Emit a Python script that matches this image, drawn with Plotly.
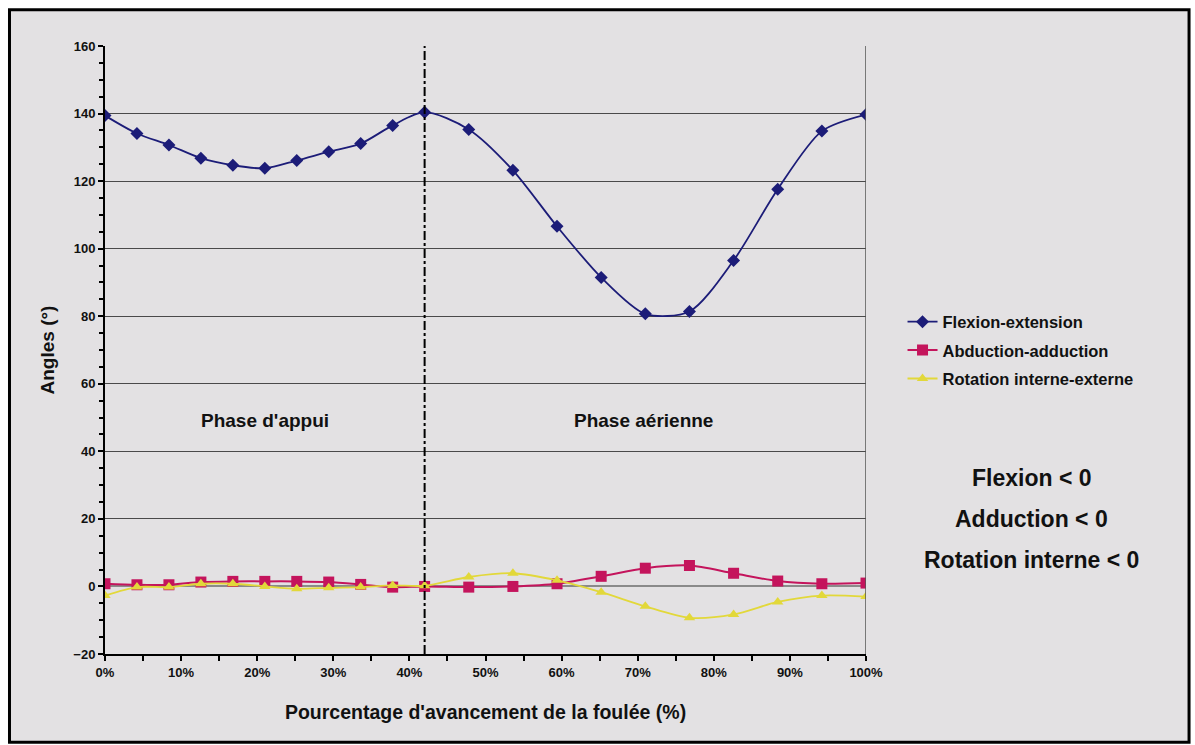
import plotly.graph_objects as go

# Percentage of stride
pct = [0, 4.2, 8.4, 12.6, 16.8, 21.0, 25.2, 29.4, 33.6, 37.8, 42.0,
       47.8, 53.6, 59.4, 65.2, 71.0, 76.8, 82.6, 88.4, 94.2, 100]

flexion = [139.4, 134.1, 130.7, 126.8, 124.7, 123.8, 126.1, 128.7, 131.1, 136.5, 140.4,
           135.3, 123.2, 106.6, 91.5, 80.7, 81.4, 96.5, 117.6, 134.8, 139.7]

abduction = [0.8, 0.5, 0.5, 1.3, 1.5, 1.5, 1.5, 1.3, 0.6, -0.2, 0.0,
             -0.2, 0.0, 0.8, 3.0, 5.4, 6.2, 3.9, 1.6, 0.8, 1.0]

rotation = [-2.7, -0.2, -0.2, 0.8, 0.8, 0.0, -0.7, -0.4, -0.2, 0.3, 0.2,
            2.8, 3.9, 1.8, -1.7, -5.9, -9.3, -8.3, -4.6, -2.7, -3.0]

series_names = ["Flexion-extension", "Abduction-adduction", "Rotation interne-externe"]
phase_change = 42.0
phase_labels = ["Phase d'appui", "Phase aérienne"]
phase_label_x = [21.0, 70.8]
convention_lines = ["Flexion < 0", "Adduction < 0", "Rotation interne < 0"]

FONT = "Arial, Liberation Sans, sans-serif"
BG = "#e3e1e3"

fig = go.Figure()

fig.add_trace(go.Scatter(
    x=pct, y=flexion, name=series_names[0], mode="lines+markers", legendgroup="a",
    line=dict(color="#1c1c78", width=1.8, shape="spline", smoothing=0.8),
    marker=dict(symbol="diamond", size=10, color="#1c1c78")))
fig.add_trace(go.Scatter(
    x=pct, y=abduction, name=series_names[1], mode="lines+markers", legendgroup="b",
    line=dict(color="#c4145c", width=2, shape="spline", smoothing=0.8),
    marker=dict(symbol="square", size=11, color="#c4145c")))
fig.add_trace(go.Scatter(
    x=pct, y=rotation, name=series_names[2], mode="lines+markers", legendgroup="c",
    line=dict(color="#e2d83a", width=1.8, shape="spline", smoothing=0.8),
    marker=dict(symbol="triangle-up", size=10, color="#e2d83a")))

# Phase separator
fig.add_shape(type="line", xref="x", yref="y", x0=phase_change, x1=phase_change,
              y0=-20, y1=160, line=dict(color="black", width=2, dash="dashdot"))
# Right border of the plot area
fig.add_shape(type="line", xref="x", yref="y", x0=100, x1=100,
              y0=-20, y1=160, line=dict(color="#555555", width=1.5))
# Outer frame
fig.add_shape(type="rect", xref="paper", yref="paper",
              x0=-0.1255, x1=1.4245, y0=-0.145, y1=1.0595,
              line=dict(color="black", width=3), fillcolor=BG, layer="below")

for lbl, xx in zip(phase_labels, phase_label_x):
    fig.add_annotation(x=xx, y=49, xref="x", yref="y", text=lbl, showarrow=False,
                       xanchor="center",
                       font=dict(family=FONT, size=19, color="#111111", weight="bold"))

for i, t in enumerate(convention_lines):
    fig.add_annotation(x=1.218, y=0.289 - i * 0.067, xref="paper", yref="paper",
                       text=t, showarrow=False, xanchor="center", yanchor="middle",
                       font=dict(family=FONT, size=23, color="#111111", weight="bold"))

fig.update_layout(
    width=1195, height=745,
    margin=dict(l=105, r=329, t=46, b=91),
    paper_bgcolor="white", plot_bgcolor=BG,
    showlegend=True,
    legend=dict(x=1.048, y=0.575, xanchor="left", yanchor="top",
                bgcolor="rgba(0,0,0,0)", tracegroupgap=4, itemwidth=30,
                font=dict(family=FONT, size=16.5, color="#111111", weight="bold")),
    font=dict(family=FONT, color="#111111"),
)

fig.update_xaxes(
    range=[0, 100], tickmode="linear", tick0=0, dtick=10, ticksuffix="%",
    showgrid=False, zeroline=False, showline=True, linecolor="black", linewidth=2,
    ticks="outside", ticklen=5, tickcolor="black", tickwidth=1.5,
    minor=dict(tickmode="linear", tick0=0, dtick=5, ticks="outside", ticklen=5,
               tickcolor="black", showgrid=False),
    tickfont=dict(family=FONT, size=13, weight="bold"),
    title=dict(text="Pourcentage d'avancement de la foulée (%)", standoff=27,
               font=dict(family=FONT, size=19.5, weight="bold")),
)
fig.update_yaxes(
    range=[-20, 160], tickmode="linear", tick0=-20, dtick=20,
    showgrid=True, gridcolor="#4a4a4a", gridwidth=1,
    zeroline=True, zerolinecolor="#8a8a8a", zerolinewidth=2,
    showline=True, linecolor="black", linewidth=2,
    ticks="outside", ticklen=5, tickcolor="black", tickwidth=1.5,
    minor=dict(tickmode="linear", tick0=-20, dtick=5, ticks="outside", ticklen=4,
               tickcolor="black", showgrid=False),
    tickfont=dict(family=FONT, size=13, weight="bold"),
    title=dict(text="Angles (°)", standoff=14,
               font=dict(family=FONT, size=19, weight="bold")),
)

fig.write_html("out.html")
